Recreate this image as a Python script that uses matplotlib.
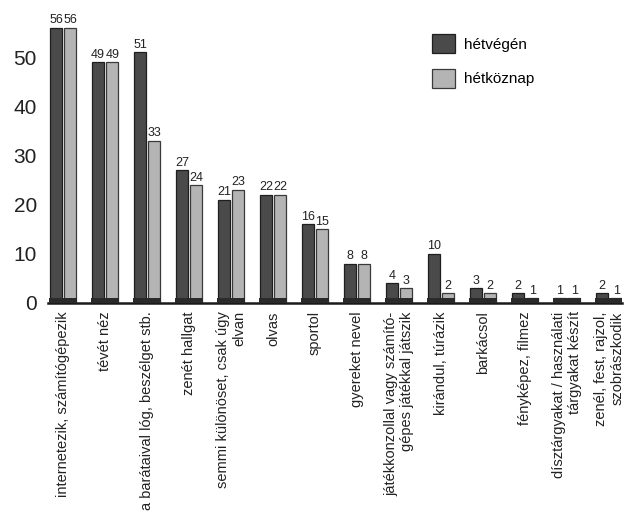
import matplotlib
matplotlib.use("Agg")
import matplotlib.pyplot as plt
import numpy as np

plt.rcParams['font.family'] = ['Liberation Sans Narrow', 'Liberation Sans', 'DejaVu Sans']

categories = [
    "internetezik, számítógépezik",
    "tévét néz",
    "a barátaival lóg, beszélget stb.",
    "zenét hallgat",
    "semmi különöset, csak úgy\nelvan",
    "olvas",
    "sportol",
    "gyereket nevel",
    "játékkonzollal vagy számító-\ngépes játékkal játszik",
    "kirándul, túrázik",
    "barkácsol",
    "fényképez, filmez",
    "dísztárgyakat / használati\ntárgyakat készít",
    "zenél, fest, rajzol,\nszobrászkodik",
]
weekend = [56, 49, 51, 27, 21, 22, 16, 8, 4, 10, 3, 2, 1, 2]
weekday = [56, 49, 33, 24, 23, 22, 15, 8, 3, 2, 2, 1, 1, 1]
series_names = ["hétvégén", "hétköznap"]
yticks = [0, 10, 20, 30, 40, 50]

fig = plt.figure(figsize=(6.32, 5.15), dpi=100)
ax = fig.add_axes([48 / 632, 212 / 515, 574 / 632, 303 / 515])

x = np.arange(len(categories))
off = 0.17
w = 0.28
dark = "#4a4a4a"
light = "#b4b4b4"

b1 = ax.bar(x - off, weekend, w, color=dark, edgecolor="#1e1e1e", linewidth=0.9,
            label=series_names[0], zorder=2)
b2 = ax.bar(x + off, weekday, w, color=light, edgecolor="#3a3a3a", linewidth=0.9,
            label=series_names[1], zorder=2)

# dark feet at the base of each bar
for xs in (x - off, x + off):
    ax.bar(xs, [1.1] * len(xs), w + 0.06, color="#2a2a2a", edgecolor="none", zorder=3)

ax.bar_label(b1, padding=1, fontsize=9, color="#222222")
ax.bar_label(b2, padding=1, fontsize=9, color="#222222")

ax.set_xlim(-0.36, 13.31)
ax.set_ylim(0, 61.6)
ax.set_yticks(yticks)
ax.set_yticklabels([str(v) for v in yticks], fontsize=15, color="#222222")
ax.set_xticks(x)
ax.set_xticklabels(categories, rotation=90, fontsize=10.5, multialignment="right",
                   color="#222222")
ax.tick_params(axis="both", length=0)
ax.tick_params(axis="y", pad=8)
ax.tick_params(axis="x", pad=6)

for s in ("top", "right", "left"):
    ax.spines[s].set_visible(False)
ax.spines["bottom"].set_linewidth(1.8)
ax.spines["bottom"].set_color("#1a1a1a")

fig.legend(handles=[b1, b2], labels=series_names, loc="upper left",
           bbox_to_anchor=(418 / 632, 1 - 20 / 515), frameon=False, fontsize=11,
           handlelength=1.5, handleheight=1.6, labelspacing=1.0, handletextpad=0.6)

fig.savefig("out.png", dpi=100, facecolor="white")
